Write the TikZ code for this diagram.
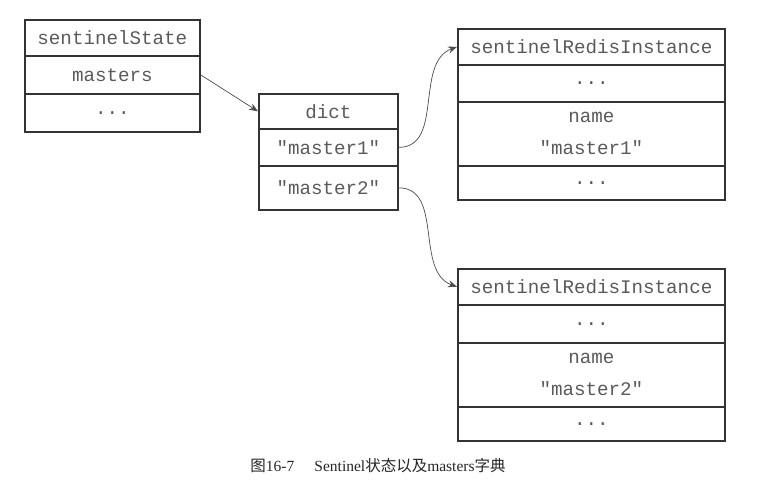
\documentclass[tikz,border=0pt]{standalone}
\usepackage{fontspec}
\setmainfont{Liberation Serif}
\setmonofont{Liberation Mono}
\newfontfamily\cjk{Noto Sans CJK SC}
\usepackage{tikz}
\usetikzlibrary{arrows.meta,calc}
\definecolor{boxline}{HTML}{333333}
\definecolor{boxtext}{HTML}{5A5A5A}
\tikzset{
  cell/.style={draw=boxline, line width=1.7pt, anchor=north west, inner sep=0pt,
    text=boxtext, font=\ttfamily\fontsize{19.2}{32}\selectfont, align=center},
  link/.style={draw=black!70, line width=0.7pt, -{Stealth[length=9pt,width=7pt]}}
}
\begin{document}
\begin{tikzpicture}[x=1pt,y=-1pt]
\useasboundingbox (0,0) rectangle (757,487);
% sentinelState
\node[cell, minimum width=175pt, minimum height=36pt] (s-head) at (24,19) {sentinelState};
\node[cell, minimum width=175pt, minimum height=38pt] (s-masters) at (24,55) {masters};
\node[cell, minimum width=175pt, minimum height=38pt] (s-dots) at (24,93) {...};
% dict
\node[cell, minimum width=139pt, minimum height=35pt] (d-head) at (258,93) {dict};
\node[cell, minimum width=139pt, minimum height=37pt] (d-m1) at (258,128) {"master1"};
\node[cell, minimum width=139pt, minimum height=44pt] (d-m2) at (258,165) {"master2"};
% sentinelRedisInstance 1
\node[cell, minimum width=267pt, minimum height=36pt] (a-head) at (457,28) {sentinelRedisInstance};
\node[cell, minimum width=267pt, minimum height=37pt] (a-dots) at (457,64) {...};
\node[cell, minimum width=267pt, minimum height=64pt] (a-name) at (457,101) {name\\"master1"};
\node[cell, minimum width=267pt, minimum height=34pt] (a-end) at (457,165) {...};
% sentinelRedisInstance 2
\node[cell, minimum width=267pt, minimum height=36pt] (b-head) at (457,268) {sentinelRedisInstance};
\node[cell, minimum width=267pt, minimum height=38pt] (b-dots) at (457,304) {...};
\node[cell, minimum width=267pt, minimum height=64pt] (b-name) at (457,342) {name\\"master2"};
\node[cell, minimum width=267pt, minimum height=34pt] (b-end) at (457,406) {...};
% pointers
\draw[link] (s-masters.east) -- (d-head.west);
\draw[link] (d-m1.east) to[out=0,in=200] (a-head.west);
\draw[link] (d-m2.east) to[out=0,in=160] (b-head.west);
% caption
\node[font=\fontsize{15.5}{17}\selectfont, text=black!85] (cap) at (378,466)
  {{\cjk 图}16-7\hspace{1.3em}Sentinel{\cjk 状态以及}masters{\cjk 字典}};
\end{tikzpicture}
\end{document}
